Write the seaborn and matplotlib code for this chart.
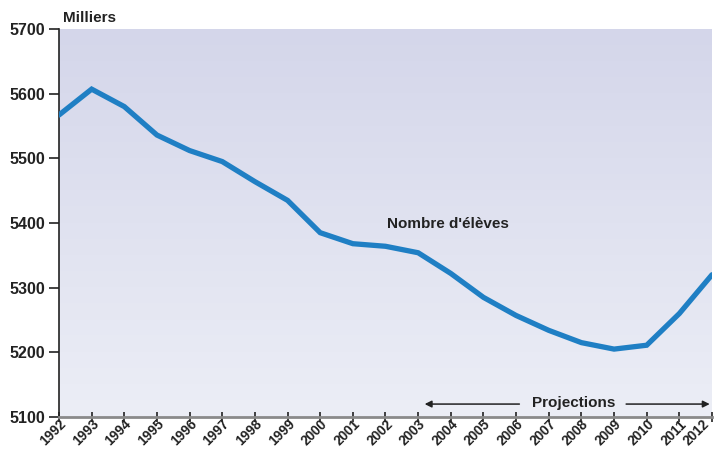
import numpy as np
import pandas as pd
import matplotlib
matplotlib.use("Agg")
import matplotlib.pyplot as plt
import seaborn as sns
from matplotlib.colors import LinearSegmentedColormap

years = list(range(1992, 2013))
eleves = [5567, 5607, 5580, 5536, 5512, 5495, 5464, 5435, 5385, 5368,
          5364, 5354, 5322, 5285, 5257, 5234, 5215, 5205, 5211, 5260, 5320]
y_ticks = [5100, 5200, 5300, 5400, 5500, 5600, 5700]
projection_start = 2003

df = pd.DataFrame({"annee": years, "eleves": eleves})

sns.set_theme(style="white")
plt.rcParams["font.family"] = ["Liberation Sans", "DejaVu Sans"]

fig = plt.figure(figsize=(7.21, 4.51), dpi=100)
ax = fig.add_axes([59 / 721, 1 - 417 / 451, (712 - 59) / 721, (417 - 29) / 451])

# soft vertical gradient behind the curve
cmap = LinearSegmentedColormap.from_list("fond", ["#eceef6", "#d4d6ea"])
grad = np.linspace(0, 1, 256).reshape(-1, 1)
ax.imshow(grad, cmap=cmap, aspect="auto", extent=(0, 1, 0, 1),
          transform=ax.transAxes, origin="lower", zorder=0)

sns.lineplot(data=df, x="annee", y="eleves", ax=ax, color="#1f7fc4",
             linewidth=3.8, solid_joinstyle="miter", zorder=3)

ax.set_xlim(1992, 2012)
ax.set_ylim(5100, 5700)
ax.set_xticks(years)
ax.set_xticklabels([str(y) for y in years], rotation=45, ha="right",
                   rotation_mode="anchor", fontsize=9.8, fontweight="bold",
                   color="#222222")
# keep the last slanted year inside the right edge
ax.get_xticklabels()[-1].set_rotation_mode("default")

ax.set_yticks(y_ticks)
ax.set_yticklabels([str(v) for v in y_ticks], fontsize=11.5,
                   fontweight="bold", color="#222222")
ax.set_xlabel("")
ax.set_ylabel("")
ax.tick_params(axis="x", direction="inout", length=7, width=1.2,
               color="#222222", pad=-3.5, bottom=True)
ax.tick_params(axis="y", direction="out", length=7, width=1.2,
               color="#222222", pad=3, left=True)

for s in ["top", "right"]:
    ax.spines[s].set_visible(False)
ax.spines["left"].set_color("#222222")
ax.spines["left"].set_linewidth(1.2)
ax.spines["bottom"].set_color("#8a8a8a")
ax.spines["bottom"].set_linewidth(2)

fig.text(63 / 721, 1 - 18 / 451, "Milliers", fontsize=11,
         fontweight="bold", color="#222222", va="center")
ax.text(2002.05, 5399, "Nombre d'élèves", fontsize=11, fontweight="bold",
        color="#222222", va="center")

# projection arrow
y_arr = 5120
ax.annotate("", xy=(projection_start + 0.2, y_arr), xytext=(2006.1, y_arr),
            arrowprops=dict(arrowstyle="-|>", color="#222222", lw=1.1,
                            mutation_scale=10, shrinkA=0, shrinkB=0))
ax.annotate("", xy=(2011.93, y_arr), xytext=(2009.37, y_arr),
            arrowprops=dict(arrowstyle="-|>", color="#222222", lw=1.1,
                            mutation_scale=10, shrinkA=0, shrinkB=0))
ax.text(2007.75, y_arr + 1.5, "Projections", ha="center", va="center",
        fontsize=11, fontweight="bold", color="#222222")

fig.savefig("out.png", dpi=100)
